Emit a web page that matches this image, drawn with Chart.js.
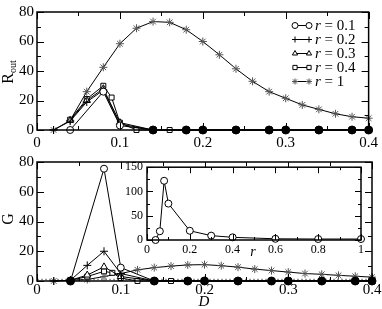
<!DOCTYPE html>
<html>
<head>
<meta charset="utf-8">
<script src="https://cdn.jsdelivr.net/npm/chart.js@4"></script>
<style>
body { margin:0; background:#fff; }
#wrap { position:relative; width:382px; height:309px; }
canvas { position:absolute; }
</style>
</head>
<body>
<div id="wrap">
<canvas id="topChart" width="382" height="150" style="left:0;top:0"></canvas>
<canvas id="bottomChart" width="382" height="159" style="left:0;top:150px"></canvas>
<canvas id="insetChart" width="268" height="106" style="left:100px;top:156px"></canvas>
</div>
<script>
// D samples and values
var dR1 = [0.04, 0.08, 0.10, 0.14, 0.18, 0.20, 0.24, 0.28, 0.30, 0.34, 0.38, 0.40];
var rout1 = [0, 26, 3, 0, 0, 0, 0, 0, 0, 0, 0, 0];
var g1 = [0, 75.5, 9, 0, 0, 0, 0, 0, 0, 0, 0, 0];

var dR2 = [0.02, 0.04, 0.06, 0.08, 0.10, 0.14, 0.18, 0.20, 0.24, 0.28, 0.30, 0.34, 0.38, 0.40];
var rout2 = [0, 6, 19, 27, 4, 0, 0, 0, 0, 0, 0, 0, 0, 0];
var g2 = [0, 0.5, 10.5, 20, 5, 0, 0, 0, 0, 0, 0, 0, 0, 0];

var dR3 = [0.04, 0.06, 0.08, 0.10, 0.14, 0.18, 0.20, 0.24, 0.28, 0.30, 0.34, 0.38, 0.40];
var rout3 = [6.5, 20, 28, 5, 0, 0, 0, 0, 0, 0, 0, 0, 0];
var g3 = [0.5, 4, 9.5, 3, 0, 0, 0, 0, 0, 0, 0, 0, 0];

var dR4 = [0.04, 0.06, 0.08, 0.09, 0.10, 0.12, 0.16, 0.20, 0.24, 0.28, 0.30, 0.34, 0.38, 0.40];
var rout4 = [7, 21, 30, 22, 5, 0, 0, 0, 0, 0, 0, 0, 0, 0];
var g4 = [0.5, 3, 6.5, 5.5, 2, 0, 0, 0, 0, 0, 0, 0, 0, 0];

var dR5 = [0.02, 0.04, 0.06, 0.08, 0.10, 0.12, 0.14, 0.16, 0.18, 0.20,
           0.22, 0.24, 0.26, 0.28, 0.30, 0.32, 0.34, 0.36, 0.38, 0.40];
var rout5 = [0, 6.5, 26, 42.5, 58.5, 69, 73.5, 73, 68, 60,
             51, 41.5, 33, 26, 21.5, 17, 14, 11, 9, 8];
var g5 = [0, 0.5, 1, 3, 5, 7.5, 9, 10, 10.8, 11,
          10.3, 9.3, 8, 7, 6, 5, 4.5, 3.8, 3.2, 2.6];

// points where all the small-r series sit on top of each other
var blobTopD = [0.14, 0.18, 0.20, 0.24, 0.28, 0.30, 0.34, 0.38, 0.40];
var blobBotD = [0.04, 0.14, 0.18, 0.20, 0.24, 0.28, 0.30, 0.34, 0.38, 0.40];

// dotted reference line G = 1
var refD = [0, 0.4];
var refG = [1, 1];

// inset: G vs r
var insetR = [0.04, 0.06, 0.08, 0.10, 0.2, 0.3, 0.4, 0.6, 0.8, 1];
var insetG = [0, 18, 122, 75, 19, 9, 5.5, 2.5, 2, 2];

var legendLabels = ['0.1', '0.2', '0.3', '0.4', '1'];
var dTicks = [0, 0.1, 0.2, 0.3, 0.4];
var yTicks = [0, 20, 40, 60, 80];
var insetXTicks = [0, 0.2, 0.4, 0.6, 0.8, 1];
var insetYTicks = [0, 50, 100, 150];

var serif = "'Liberation Serif', 'DejaVu Serif', serif";

var styles = [
	{ pointStyle: 'circle', radius: 3.5, color: '#000' },
	{ pointStyle: 'cross', radius: 4, color: '#000' },
	{ pointStyle: 'triangle', radius: 4, color: '#000' },
	{ pointStyle: 'rect', radius: 3.5, color: '#000' },
	{ pointStyle: 'star', radius: 4, color: '#555' }
];

function pts(xs, ys){
	return xs.map(function(x, i){ return { x: x, y: ys[i] }; });
}

function series(xs, ys, st){
	return {
		data: pts(xs, ys),
		showLine: true,
		borderColor: '#000',
		borderWidth: 1,
		pointStyle: st.pointStyle,
		pointRadius: st.radius,
		pointBorderColor: st.color,
		pointBackgroundColor: '#fff',
		pointBorderWidth: 1,
		clip: false
	};
}

function blobs(xs){
	return {
		data: pts(xs, xs.map(function(){ return 0; })),
		showLine: false,
		pointStyle: 'circle',
		pointRadius: 4,
		pointBackgroundColor: '#000',
		pointBorderColor: '#000',
		clip: false
	};
}

function fmt(v){ return String(Math.round(v * 100) / 100); }

function linScale(min, max, ticks, fontSize, pad, fitProp, fitVal){
	return {
		type: 'linear', min: min, max: max,
		grid: { display: false, drawTicks: false },
		border: { display: false },
		afterBuildTicks: function(s){ s.ticks = ticks.map(function(v){ return { value: v }; }); },
		afterFit: function(s){ s[fitProp] = fitVal; },
		ticks: { font: { family: serif, size: fontSize }, color: '#000', padding: pad,
			maxRotation: 0, autoSkip: false, callback: fmt }
	};
}

// frame with inward ticks on all four sides
function framePlugin(xMaj, xMin, yMaj, yMin, lMaj, lMin, whiteBg){
	return {
		id: 'frame',
		beforeDatasetsDraw: function(chart){
			if (!whiteBg) return;
			var a = chart.chartArea, ctx = chart.ctx;
			ctx.save();
			ctx.fillStyle = '#fff';
			ctx.fillRect(a.left, a.top, a.right - a.left, a.bottom - a.top);
			ctx.restore();
		},
		afterDatasetsDraw: function(chart){
			var a = chart.chartArea, ctx = chart.ctx;
			var sx = chart.scales.x, sy = chart.scales.y;
			ctx.save();
			ctx.strokeStyle = '#000';
			ctx.lineWidth = 1.5;
			ctx.strokeRect(a.left, a.top, a.right - a.left, a.bottom - a.top);
			ctx.lineWidth = 1;
			ctx.beginPath();
			function xt(v, len){
				var p = Math.round(sx.getPixelForValue(v)) + 0.5;
				ctx.moveTo(p, a.bottom); ctx.lineTo(p, a.bottom - len);
				ctx.moveTo(p, a.top); ctx.lineTo(p, a.top + len);
			}
			function yt(v, len){
				var p = Math.round(sy.getPixelForValue(v)) + 0.5;
				ctx.moveTo(a.left, p); ctx.lineTo(a.left + len, p);
				ctx.moveTo(a.right, p); ctx.lineTo(a.right - len, p);
			}
			xMaj.forEach(function(v){ xt(v, lMaj); });
			xMin.forEach(function(v){ xt(v, lMin); });
			yMaj.forEach(function(v){ yt(v, lMaj); });
			yMin.forEach(function(v){ yt(v, lMin); });
			ctx.stroke();
			ctx.restore();
		}
	};
}

function rotatedTitle(ctx, x, y, main, sub){
	ctx.save();
	ctx.translate(x, y);
	ctx.rotate(-Math.PI / 2);
	ctx.fillStyle = '#000';
	ctx.textBaseline = 'alphabetic';
	ctx.font = '16px ' + serif;
	var wm = ctx.measureText(main).width;
	ctx.font = '10px ' + serif;
	var ws = sub ? ctx.measureText(sub).width : 0;
	var start = -(wm + ws) / 2;
	ctx.font = '16px ' + serif;
	ctx.fillText(main, start, 0);
	if (sub){
		ctx.font = '10px ' + serif;
		ctx.fillText(sub, start + wm, 3);
	}
	ctx.restore();
}

var xMinorD = [0.05, 0.15, 0.25, 0.35];
var yMinor80 = [10, 30, 50, 70];

var topTitle = {
	id: 'topTitle',
	afterDraw: function(chart){
		var ctx = chart.ctx;
		rotatedTitle(ctx, 13, 72, 'R', 'out');
		// legend
		ctx.save();
		for (var i = 0; i < legendLabels.length; i++){
			var y = 25 + i * 14;
			var st = styles[i];
			ctx.strokeStyle = '#000';
			ctx.lineWidth = 1;
			ctx.beginPath();
			ctx.moveTo(295, y + 0.5); ctx.lineTo(309, y + 0.5);
			ctx.stroke();
			ctx.strokeStyle = st.color;
			ctx.fillStyle = '#fff';
			[295, 309].forEach(function(px){
				Chart.helpers.drawPoint(ctx, { pointStyle: st.pointStyle, radius: 3, rotation: 0, borderWidth: 1 }, px, y + 0.5);
			});
			ctx.fillStyle = '#000';
			ctx.textBaseline = 'middle';
			ctx.font = 'italic 15px ' + serif;
			ctx.fillText('r', 315, y + 1);
			var wr = ctx.measureText('r').width;
			ctx.font = '15px ' + serif;
			ctx.fillText(' = ' + legendLabels[i], 315 + wr, y + 1);
		}
		ctx.restore();
	}
};

var bottomTitle = {
	id: 'bottomTitle',
	afterDraw: function(chart){
		var ctx = chart.ctx;
		rotatedTitle(ctx, 13, 69, 'G', null);
		ctx.save();
		ctx.fillStyle = '#000';
		ctx.font = 'italic 15px ' + serif;
		ctx.textAlign = 'center';
		ctx.textBaseline = 'middle';
		ctx.fillText('D', 204, 152);
		ctx.restore();
	}
};

var insetTitle = {
	id: 'insetTitle',
	afterDraw: function(chart){
		var ctx = chart.ctx;
		ctx.save();
		ctx.fillStyle = '#000';
		ctx.font = 'italic 14px ' + serif;
		ctx.textAlign = 'center';
		ctx.textBaseline = 'middle';
		ctx.fillText('r', 153, 96);
		ctx.restore();
	}
};

function baseOptions(padTop, xHeight, xPad){
	return {
		animation: false,
		responsive: false,
		events: [],
		plugins: { legend: { display: false }, tooltip: { enabled: false } },
		layout: { padding: { top: padTop, right: 10, left: 0, bottom: 0 } },
		scales: {
			x: linScale(0, 0.4, dTicks, 15, xPad, 'height', xHeight),
			y: linScale(0, 80, yTicks, 15, 3, 'width', 37)
		}
	};
}

new Chart(document.getElementById('topChart'), {
	type: 'scatter',
	data: { datasets: [
		blobs(blobTopD),
		series(dR1, rout1, styles[0]),
		series(dR2, rout2, styles[1]),
		series(dR3, rout3, styles[2]),
		series(dR4, rout4, styles[3]),
		series(dR5, rout5, styles[4])
	] },
	options: baseOptions(6, 20, 4),
	plugins: [framePlugin(dTicks, xMinorD, yTicks, yMinor80, 7, 4, false), topTitle]
});

var refLine = {
	data: pts(refD, refG),
	showLine: true,
	borderColor: '#999',
	borderWidth: 1.5,
	borderDash: [2, 2],
	pointRadius: 0
};

new Chart(document.getElementById('bottomChart'), {
	type: 'scatter',
	data: { datasets: [
		blobs(blobBotD),
		series(dR1, g1, styles[0]),
		series(dR2, g2, styles[1]),
		series(dR3, g3, styles[2]),
		series(dR4, g4, styles[3]),
		series(dR5, g5, styles[4]),
		refLine
	] },
	options: baseOptions(7, 28, 0),
	plugins: [framePlugin(dTicks, xMinorD, yTicks, yMinor80, 7, 4, false), bottomTitle]
});

var insetOpts = {
	animation: false,
	responsive: false,
	events: [],
	plugins: { legend: { display: false }, tooltip: { enabled: false } },
	layout: { padding: { top: 8, right: 7, left: 0, bottom: 0 } },
	scales: {
		x: linScale(0, 1, insetXTicks, 12, 3, 'height', 22),
		y: linScale(0, 150, insetYTicks, 12, 4, 'width', 47)
	}
};

new Chart(document.getElementById('insetChart'), {
	type: 'scatter',
	data: { datasets: [ series(insetR, insetG, styles[0]) ] },
	options: insetOpts,
	plugins: [framePlugin(insetXTicks, [0.1, 0.3, 0.5, 0.7, 0.9], insetYTicks, [25, 75, 125], 6, 3, true), insetTitle]
});
</script>
</body>
</html>
